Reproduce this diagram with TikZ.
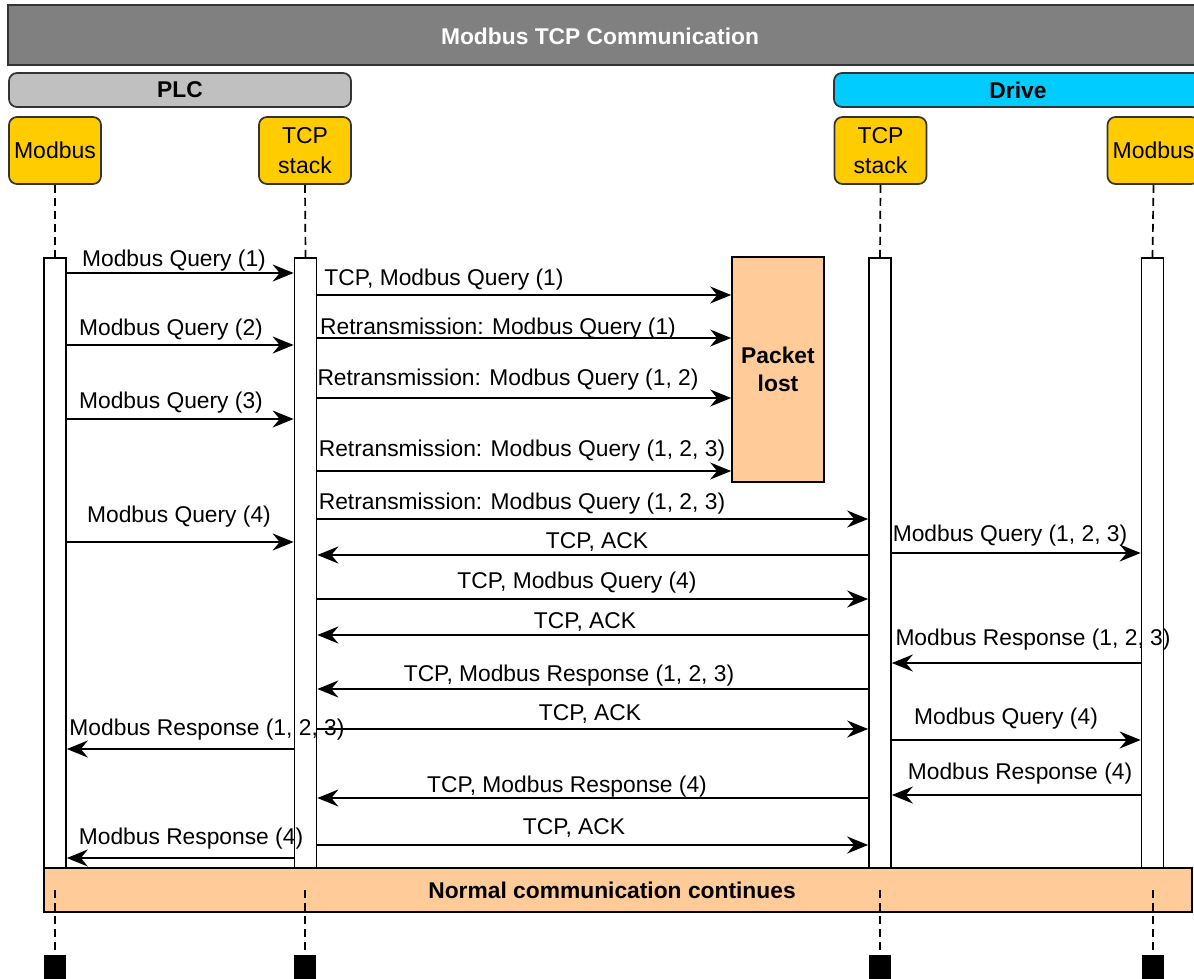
\documentclass[tikz,border=0pt]{standalone}
\usepackage{fontspec}
\setmainfont{Liberation Sans}
\usetikzlibrary{arrows.meta}
\definecolor{titlegray}{HTML}{808080}
\definecolor{plcgray}{HTML}{C0C0C0}
\definecolor{drivecyan}{HTML}{00CCFF}
\definecolor{partyellow}{HTML}{FFCC00}
\definecolor{peach}{HTML}{FFCC99}
\definecolor{edge}{HTML}{333333}
\tikzset{
  box/.style={draw=edge, line width=1.7pt, rounded corners=8pt, inner sep=0pt},
  party/.style={box, fill=partyellow, minimum width=92, minimum height=67, align=center, font=\fontsize{23}{30}\selectfont},
  actbar/.style={draw=black, line width=1.7pt, fill=white, minimum width=22, minimum height=610, inner sep=0pt},
  life/.style={draw=black, line width=1.7pt, dash pattern=on 8pt off 5pt},
  msg/.style={draw=black, line width=1.7pt, -{Stealth[length=21pt,width=17pt,inset=7pt]}},
  lbl/.style={anchor=base, inner sep=0pt, font=\fontsize{22.8}{26}\selectfont},
  bigbold/.style={font=\fontsize{22.8}{28}\selectfont\bfseries},
  endsq/.style={fill=black, minimum width=22, minimum height=30, inner sep=0pt}
}
\begin{document}
\begin{tikzpicture}[x=1pt,y=-1pt]
\useasboundingbox (0,0) rectangle (1194,978);
\clip (0,0) rectangle (1194,978);
% title and groups
\node[draw=edge, line width=1.7pt, fill=titlegray, minimum width=1200, minimum height=60, inner sep=0pt] (title) at (608,35) {};
\node[bigbold, text=white] (titletext) at (600,36) {Modbus TCP Communication};
\node[box, fill=plcgray, minimum width=342, minimum height=34, bigbold] (plc) at (180,90) {PLC};
\node[box, fill=drivecyan, minimum width=370, minimum height=34] (drive) at (1019,90) {};
\node[bigbold] (drivetext) at (1018,90) {Drive};
% participants
\node[party] (pm) at (55,150.5) {Modbus};
\node[party] (pt) at (305,150.5) {TCP\\stack};
\node[party] (dt) at (880.5,150.5) {TCP\\stack};
\node[party] (dm) at (1153.5,150.5) {Modbus};
% end squares
\node[endsq] (epm) at (55,970) {};
\node[endsq] (ept) at (305,970) {};
\node[endsq] (edt) at (880,970) {};
\node[endsq] (edm) at (1153,970) {};
% activation bars
\node[actbar] (apm) at (55,563) {};
\node[actbar] (apt) at (305.5,563) {};
\node[actbar] (adt) at (880,563) {};
\node[actbar] (adm) at (1152.5,563) {};
% lifelines top
\draw[life] (pm.south) -- (apm.north);
\draw[life] (pt.south) -- (apt.north);
\draw[life] (dt.south) -- (adt.north);
\draw[life] (dm.south) -- (adm.north);
% packet lost
\node[draw=black, line width=1.7pt, fill=peach, minimum width=92, minimum height=225, inner sep=0pt, align=center, bigbold] (lost) at (778,369.5) {Packet\\lost};
% normal communication
\node[draw=black, line width=1.7pt, fill=peach, minimum width=1148, minimum height=44, inner sep=0pt] (normal) at (618,890) {};
\node[bigbold] (normaltext) at (612,890) {Normal communication continues};
% lifelines bottom
\draw[life] (55,890) -- (epm.north);
\draw[life] (305,890) -- (ept.north);
\draw[life] (880,890) -- (edt.north);
\draw[life] (1153,890) -- (edm.north);
% messages
\draw[msg] (apm.east |- 0,273) -- (apt.west |- 0,273);
\node[lbl] at (174,266) {Modbus Query (1)};
\draw[msg] (apt.east |- 0,295) -- (lost.west |- 0,295);
\node[lbl] at (444,285) {TCP, Modbus Query (1)};
\draw[msg] (apm.east |- 0,345) -- (apt.west |- 0,345);
\node[lbl] at (171,335) {Modbus Query (2)};
\draw[msg] (apt.east |- 0,338) -- (lost.west |- 0,338);
\node[lbl] at (498,334) {Retransmission: Modbus Query (1)};
\draw[msg] (apm.east |- 0,419) -- (apt.west |- 0,419);
\node[lbl] at (171,408) {Modbus Query (3)};
\draw[msg] (apt.east |- 0,398) -- (lost.west |- 0,398);
\node[lbl] at (508,385) {Retransmission: Modbus Query (1, 2)};
\draw[msg] (apt.east |- 0,471) -- (lost.west |- 0,471);
\node[lbl] at (522,456) {Retransmission: Modbus Query (1, 2, 3)};
\draw[msg] (apt.east |- 0,519) -- (adt.west |- 0,519);
\node[lbl] at (522,509) {Retransmission: Modbus Query (1, 2, 3)};
\draw[msg] (apm.east |- 0,542) -- (apt.west |- 0,542);
\node[lbl] at (179,522) {Modbus Query (4)};
\draw[msg] (adt.west |- 0,555) -- (apt.east |- 0,555);
\node[lbl] at (597,548) {TCP, ACK};
\draw[msg] (adt.east |- 0,553) -- (adm.west |- 0,553);
\node[lbl] at (1010,541) {Modbus Query (1, 2, 3)};
\draw[msg] (apt.east |- 0,599) -- (adt.west |- 0,599);
\node[lbl] at (577,588) {TCP, Modbus Query (4)};
\draw[msg] (adt.west |- 0,635) -- (apt.east |- 0,635);
\node[lbl] at (585,628) {TCP, ACK};
\draw[msg] (adm.west |- 0,663) -- (adt.east |- 0,663);
\node[lbl] at (1033,645) {Modbus Response (1, 2, 3)};
\draw[msg] (adt.west |- 0,689) -- (apt.east |- 0,689);
\node[lbl] at (569,681) {TCP, Modbus Response (1, 2, 3)};
\draw[msg] (apt.east |- 0,729) -- (adt.west |- 0,729);
\node[lbl] at (590,720) {TCP, ACK};
\draw[msg] (apt.west |- 0,749) -- (apm.east |- 0,749);
\node[lbl] at (207,735) {Modbus Response (1, 2, 3)};
\draw[msg] (adt.east |- 0,740) -- (adm.west |- 0,740);
\node[lbl] at (1006,724) {Modbus Query (4)};
\draw[msg] (adm.west |- 0,795) -- (adt.east |- 0,795);
\node[lbl] at (1020,779) {Modbus Response (4)};
\draw[msg] (adt.west |- 0,798) -- (apt.east |- 0,798);
\node[lbl] at (567,792) {TCP, Modbus Response (4)};
\draw[msg] (apt.east |- 0,845) -- (adt.west |- 0,845);
\node[lbl] at (574,834) {TCP, ACK};
\draw[msg] (apt.west |- 0,858) -- (apm.east |- 0,858);
\node[lbl] at (191,844) {Modbus Response (4)};
\end{tikzpicture}
\end{document}
